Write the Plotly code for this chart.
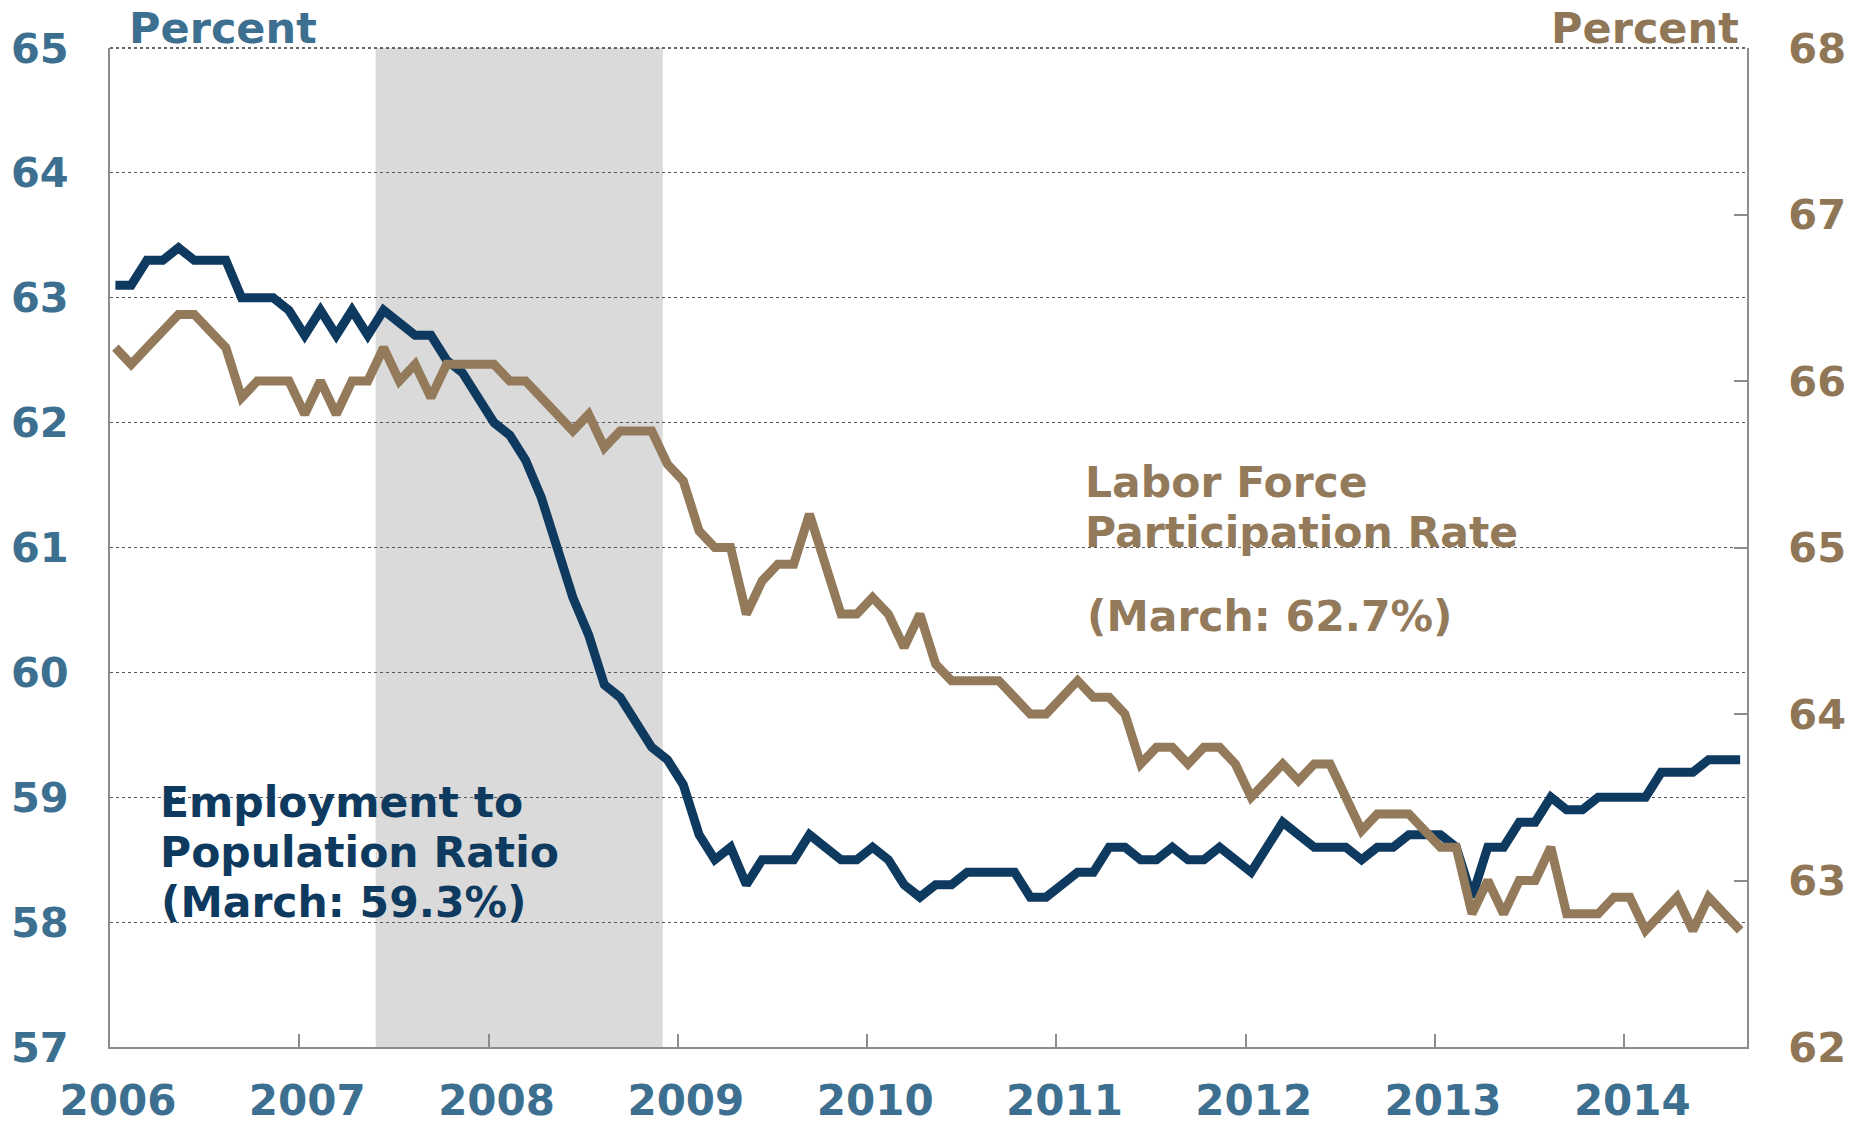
import pandas as pd
import plotly.graph_objects as go

# Monthly observations, Aug 2006 - Mar 2015
months = pd.period_range("2006-08", "2015-03", freq="M").strftime("%Y-%m").tolist()

epop = [
    63.1, 63.1, 63.3, 63.3, 63.4,
    63.3, 63.3, 63.3, 63.0, 63.0, 63.0, 62.9, 62.7, 62.9, 62.7, 62.9, 62.7,
    62.9, 62.8, 62.7, 62.7, 62.5, 62.4, 62.2, 62.0, 61.9, 61.7, 61.4, 61.0,
    60.6, 60.3, 59.9, 59.8, 59.6, 59.4, 59.3, 59.1, 58.7, 58.5, 58.6, 58.3,
    58.5, 58.5, 58.5, 58.7, 58.6, 58.5, 58.5, 58.6, 58.5, 58.3, 58.2, 58.3,
    58.3, 58.4, 58.4, 58.4, 58.4, 58.2, 58.2, 58.3, 58.4, 58.4, 58.6, 58.6,
    58.5, 58.5, 58.6, 58.5, 58.5, 58.6, 58.5, 58.4, 58.6, 58.8, 58.7, 58.6,
    58.6, 58.6, 58.5, 58.6, 58.6, 58.7, 58.7, 58.7, 58.6, 58.2, 58.6, 58.6,
    58.8, 58.8, 59.0, 58.9, 58.9, 59.0, 59.0, 59.0, 59.0, 59.2, 59.2, 59.2,
    59.3, 59.3, 59.3,
]

lfpr = [
    66.2, 66.1, 66.2, 66.3, 66.4,
    66.4, 66.3, 66.2, 65.9, 66.0, 66.0, 66.0, 65.8, 66.0, 65.8, 66.0, 66.0,
    66.2, 66.0, 66.1, 65.9, 66.1, 66.1, 66.1, 66.1, 66.0, 66.0, 65.9, 65.8,
    65.7, 65.8, 65.6, 65.7, 65.7, 65.7, 65.5, 65.4, 65.1, 65.0, 65.0, 64.6,
    64.8, 64.9, 64.9, 65.2, 64.9, 64.6, 64.6, 64.7, 64.6, 64.4, 64.6, 64.3,
    64.2, 64.2, 64.2, 64.2, 64.1, 64.0, 64.0, 64.1, 64.2, 64.1, 64.1, 64.0,
    63.7, 63.8, 63.8, 63.7, 63.8, 63.8, 63.7, 63.5, 63.6, 63.7, 63.6, 63.7,
    63.7, 63.5, 63.3, 63.4, 63.4, 63.4, 63.3, 63.2, 63.2, 62.8, 63.0, 62.8,
    63.0, 63.0, 63.2, 62.8, 62.8, 62.8, 62.9, 62.9, 62.7, 62.8, 62.9, 62.7,
    62.9, 62.8, 62.7,
]

year_ticks = [2006, 2007, 2008, 2009, 2010, 2011, 2012, 2013, 2014]
year_labels = [str(y) for y in year_ticks]
left_ticks = [57, 58, 59, 60, 61, 62, 63, 64, 65]
right_ticks = [62, 63, 64, 65, 66, 67, 68]

# position of months on the chart's (labelled) year axis
X_START = 2006.0285
xpos = [X_START + i / 12 for i in range(len(months))]

# recession band (Dec 2007 - Jun 2009) on the same axis
rec_start = X_START + months.index("2007-12") / 12 + 0.5 / 12
rec_end = X_START + months.index("2009-06") / 12 + 0.7 / 12

NAVY = "#0f3a60"
TAN = "#927a5a"
STEEL = "#3c6f90"
TANLBL = "#8f7656"
AXIS = "#8c8c8c"
FONT = "DejaVu Sans"

fig = go.Figure()
fig.add_trace(go.Scatter(x=xpos, y=epop, mode="lines", line=dict(color=NAVY, width=9),
                         customdata=months, name="Employment to Population Ratio", yaxis="y"))
fig.add_trace(go.Scatter(x=xpos, y=lfpr, mode="lines", line=dict(color=TAN, width=9),
                         customdata=months, name="Labor Force Participation Rate", yaxis="y2"))

fig.add_shape(type="rect", xref="x", yref="paper", x0=rec_start, x1=rec_end, y0=0, y1=1,
              fillcolor="#dadada", line=dict(width=0), layer="below")
fig.add_shape(type="line", xref="paper", yref="paper", x0=0, x1=1, y0=1, y1=1,
              line=dict(color="#333333", width=1.5, dash="dot"), layer="below")

W, H = 1866, 1125
L, R, T, B = 110, 119, 48, 78
PW, PH = W - L - R, H - T - B


def px(xp):
    return (xp - L) / PW


def py(yp):
    return (H - B - yp) / PH


ann = []


def add_text(text, x, y, color, xanchor="left", size=42.5):
    ann.append(dict(text=text, x=px(x), y=py(y), xref="paper", yref="paper",
                    xanchor=xanchor, yanchor="middle", showarrow=False,
                    font=dict(family=FONT, size=size, color=color, weight="bold")))


add_text("Employment to", 157.5, 802, NAVY)
add_text("Population Ratio", 157.5, 852.5, NAVY)
add_text("(March: 59.3%)", 158.5, 902.5, NAVY)
add_text("Labor Force", 1083, 482.5, TAN)
add_text("Participation Rate", 1083, 532, TAN)
add_text("(March: 62.7%)", 1085, 617, TAN)
add_text("Percent", 127, 28, STEEL, size=43)
add_text("Percent", 1741, 28, TANLBL, xanchor="right", size=43)

fig.update_layout(
    width=W, height=H,
    margin=dict(l=L, r=R, t=T, b=B),
    plot_bgcolor="white", paper_bgcolor="white",
    showlegend=False,
    annotations=ann,
    xaxis=dict(range=[2006, 2014.648], tickvals=year_ticks, ticktext=year_labels,
               ticks="inside", ticklen=13, tickwidth=1.5, tickcolor=AXIS, automargin=False,
               showline=True, linecolor=AXIS, linewidth=2, showgrid=False, zeroline=False,
               tickfont=dict(family=FONT, size=42, color=STEEL, weight="bold"),
               ticklabelstandoff=16, ticklabelshift=8),
    yaxis=dict(range=[57, 65], tickvals=left_ticks, ticks="", automargin=False,
               showline=True, linecolor=AXIS, linewidth=2, zeroline=False,
               showgrid=True, gridcolor="#555555", gridwidth=1, griddash="dot",
               tickfont=dict(family=FONT, size=41.5, color=STEEL, weight="bold"),
               ticklabelstandoff=31),
    yaxis2=dict(range=[62, 68], tickvals=right_ticks, overlaying="y", side="right",
                ticks="inside", ticklen=13, tickwidth=1.5, tickcolor=AXIS, automargin=False,
                showline=True, linecolor=AXIS, linewidth=2, showgrid=False, zeroline=False,
                tickfont=dict(family=FONT, size=41.5, color=TANLBL, weight="bold"),
                ticklabelstandoff=31),
)

# remove the default 8px body margin so the figure fills the window exactly
fig.write_html("out.html", config={"displayModeBar": False},
               post_script="document.body.style.margin='0';")
